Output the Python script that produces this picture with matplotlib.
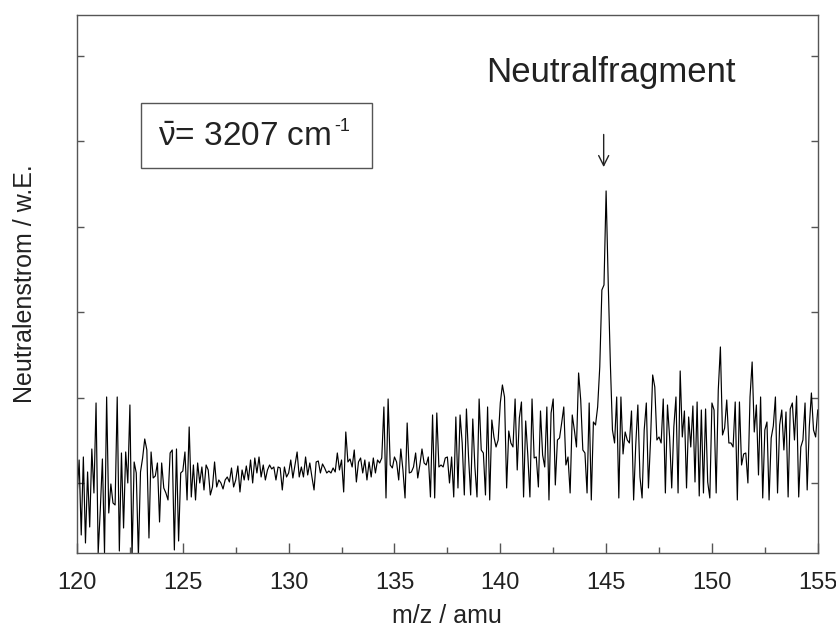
from __future__ import annotations

import matplotlib

matplotlib.use("Agg")
import matplotlib.pyplot as plt
import numpy as np
from matplotlib.patches import Rectangle

# m/z grid: 120.0 ... 155.0 amu in 0.1 steps
MZ_START = 120.0
MZ_STEP = 0.1

# neutral current (arb. units)
noise_120_126 = [56, 93, 18, 96, 10, 81, 26, 104, 60, 150,
                 0, 43, 94, 0, 156, 40, 69, 50, 48, 156,
                 2, 100, 25, 101, 70, 148, -4, 91, 80, -3,
                 81, 95, 114, 103, 15, 101, 75, 77, 90, 31,
                 90, 65, 60, 53, 100, 103, 3, 104, 12, 80,
                 82, 101, 53, 126, 56, 88, 53,
                 90, 70, 86, 63, 88, 83, 58]
noise_126_134 = [66, 91, 66, 73, 70, 64, 73, 76, 71, 85,
                 66, 73, 87, 61, 83, 73, 87, 73, 93, 70,
                 95, 80, 96, 76, 88, 73, 83, 88, 84, 86,
                 73, 86, 85, 63, 86, 76, 80, 93, 75, 88,
                 101, 76, 86, 76, 96, 78, 90, 76, 63, 91,
                 92, 80, 89, 85, 80, 82, 80, 85, 81, 100,
                 83, 93, 61, 121, 91, 94, 86, 103, 71, 91,
                 95, 80, 93, 73, 91, 76, 95, 80, 93, 90,
                 95]
noise_134_145 = [146, 55, 154, 88, 85, 96, 91, 73, 104,
                 83, 55, 130, 80, 81, 86, 100, 75, 88,
                 104, 90, 88, 96, 56, 138, 55, 140, 86,
                 88, 86, 95, 96, 70, 96, 56, 136, 65,
                 138, 110, 58, 144, 96, 58, 134, 86, 56, 154,
                 103, 100, 58, 146, 53, 133, 116, 106, 113,
                 150, 168, 156, 65, 122, 110, 106, 154, 83,
                 135, 151, 56, 132, 98, 56, 154, 95, 96, 66,
                 142, 98, 86, 146, 53, 140, 154, 68, 113,
                 115, 130, 146, 88, 96, 60, 138, 123, 106,
                 180, 153, 103, 100, 60, 150, 53, 131, 128, 146,
                 186]
peak_145 = [263, 268, 362, 270, 190]
noise_145_155 = [123, 110, 156, 55, 156, 99, 121, 113, 110,
                 142, 53, 108, 148, 76, 55, 123, 150, 65,
                 113, 178, 166, 113, 116, 110, 154, 60, 148, 116,
                 65, 126, 156, 60, 182, 116, 142, 65, 136,
                 106, 147, 71, 151, 57, 143, 60, 144, 71, 55,
                 150, 143, 60, 163, 206, 118, 125, 153, 110,
                 110, 106, 151, 53, 151, 88, 99, 100, 70,
                 156, 191, 121, 148, 78, 156, 55, 123, 131, 53,
                 115, 127, 156, 60, 128, 143, 103, 141, 56,
                 144, 150, 113, 157, 56, 106, 113, 150, 63, 126,
                 160, 123, 116, 143]

x_ticks = [120, 125, 130, 135, 140, 145, 150, 155]
y_ticks = [70, 155.4, 240.8, 326.2, 411.6, 497]

FONT = ["Liberation Sans", "DejaVu Sans"]
AXIS_GREY = "#555555"
TEXT_COLOR = "#222222"


def build_trace() -> tuple[np.ndarray, np.ndarray]:
    signal = np.array(noise_120_126 + noise_126_134 + noise_134_145 + peak_145 + noise_145_155, dtype=float)
    mz = MZ_START + MZ_STEP * np.arange(signal.size)
    assert signal.size == 351, signal.size
    return mz, signal


def main() -> None:
    plt.rcParams["font.family"] = FONT
    plt.rcParams["mathtext.fontset"] = "custom"
    plt.rcParams["mathtext.rm"] = "Liberation Sans"
    plt.rcParams["mathtext.it"] = "Liberation Sans:italic"

    mz, signal = build_trace()

    fig = plt.figure(figsize=(8.37, 6.33), dpi=100)
    ax = fig.add_axes([0.092, 0.1264, 0.885, 0.85])
    ax.plot(mz, signal, color="black", lw=0.85)

    ax.set_xlim(120, 155)
    ax.set_ylim(0, 538)
    ax.set_xticks(x_ticks)
    ax.set_xticks(np.arange(122.5, 155, 5), minor=True)
    ax.set_yticks(y_ticks)
    ax.set_yticklabels([])

    for spine in ax.spines.values():
        spine.set_color(AXIS_GREY)
        spine.set_linewidth(1.0)
    ax.tick_params(axis="both", which="both", direction="in", color=AXIS_GREY, width=1.0)
    ax.tick_params(axis="x", which="major", length=7, labelsize=17, pad=14, labelcolor=TEXT_COLOR)
    ax.tick_params(axis="x", which="minor", length=4)
    ax.tick_params(axis="y", which="major", length=5, left=True, right=True)

    ax.set_xlabel("m/z / amu", fontsize=18, color=TEXT_COLOR, labelpad=7)
    ax.set_ylabel("Neutralenstrom / w.E.", fontsize=18, color=TEXT_COLOR, labelpad=25)

    # wavenumber box
    ax.add_patch(Rectangle((0.0864, 0.7156), 0.3117, 0.1208, transform=ax.transAxes,
                           fill=False, edgecolor=AXIS_GREY, lw=1.0))
    label = ax.text(0.110, 0.757, r"$\bar{\mathrm{\nu}}$= 3207 cm", transform=ax.transAxes,
                    fontsize=24, color=TEXT_COLOR, ha="left", va="baseline")
    ax.annotate("-1", xy=(1.0, 1.0), xycoords=label, xytext=(2, 3), textcoords="offset points",
                fontsize=13, color=TEXT_COLOR, ha="left", va="top")

    ax.text(0.7206, 0.8755, "Neutralfragment", transform=ax.transAxes,
            fontsize=25, color=TEXT_COLOR, ha="center", va="baseline")
    ax.annotate("", xy=(0.711, 0.712), xytext=(0.711, 0.783),
                xycoords="axes fraction", textcoords="axes fraction",
                arrowprops=dict(arrowstyle="->", color=TEXT_COLOR, lw=1.0, mutation_scale=18))

    fig.savefig("out.png", dpi=100)
    plt.close(fig)


if __name__ == "__main__":
    main()
